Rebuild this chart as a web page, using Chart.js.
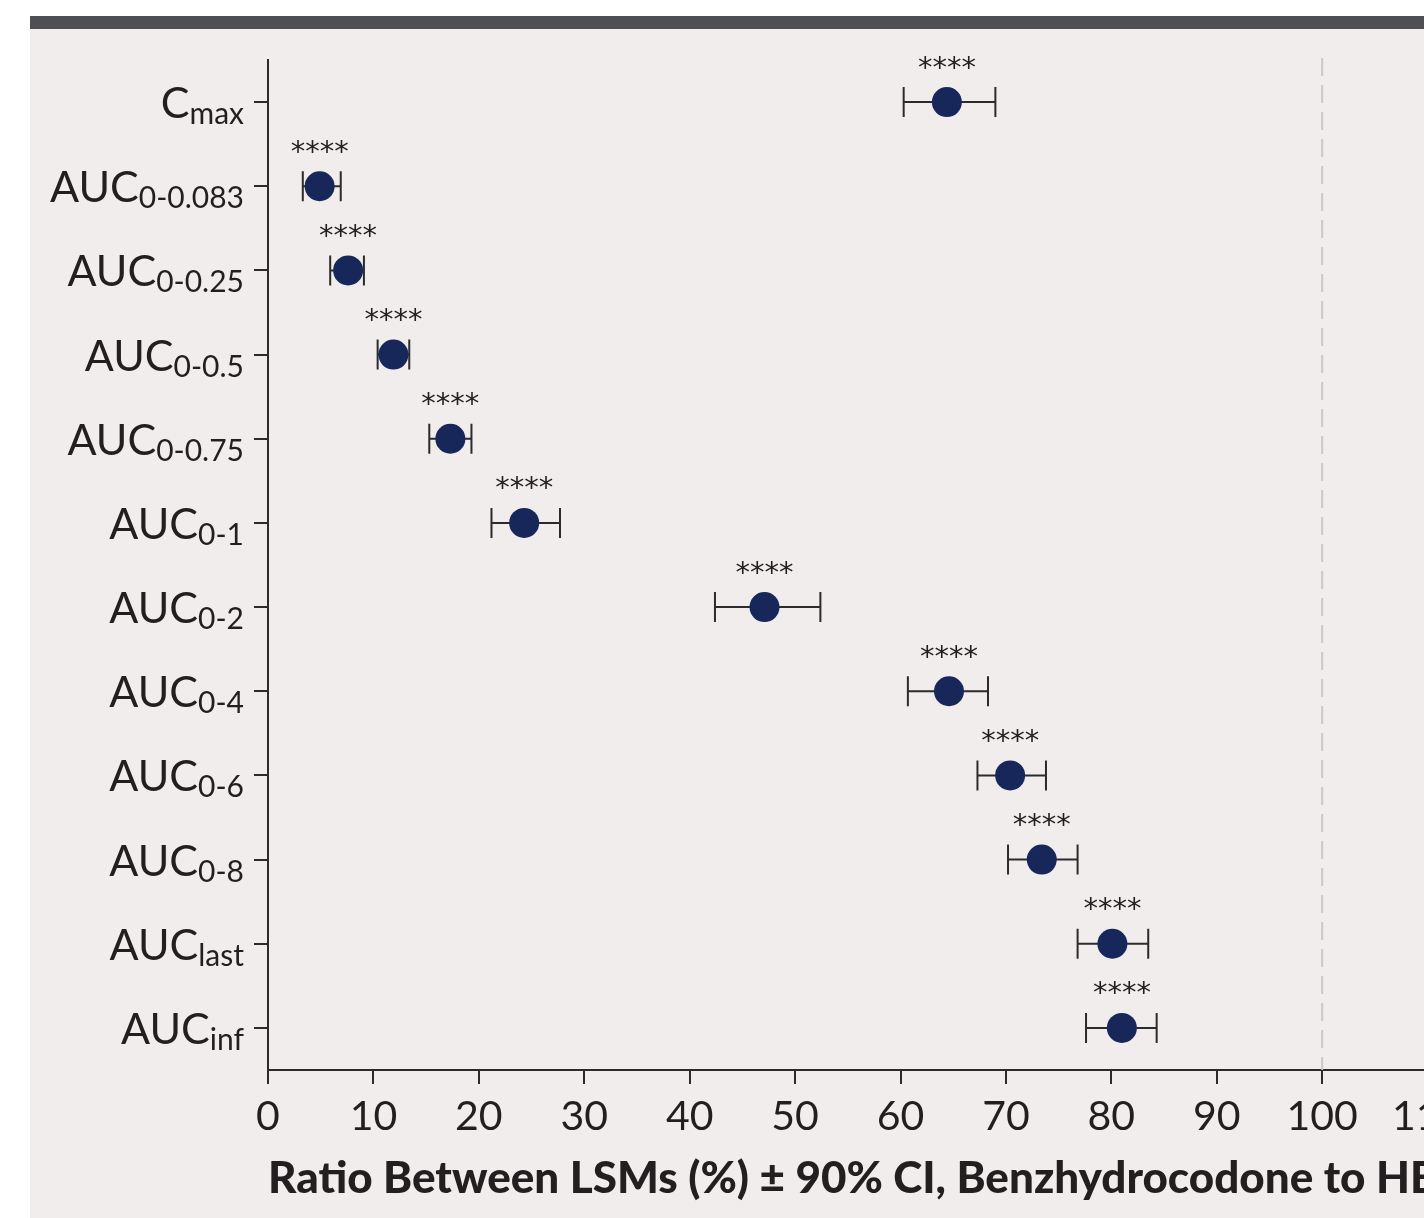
<!DOCTYPE html>
<html>
<head>
<meta charset="utf-8">
<script src="https://cdn.jsdelivr.net/npm/chart.js@4.4.0/dist/chart.umd.min.js"></script>
<style>
    html, body { margin: 0; padding: 0; background: #ffffff; overflow: hidden; width: 1424px; height: 1218px; }
    #barraTopo { position: absolute; left: 30px; top: 16px; width: 1394px; height: 13px; background: #4e4e53; }
    #painel { position: absolute; left: 30px; top: 29px; width: 1394px; height: 1189px; background: #f1eded; }
    #areaGrafico { position: absolute; left: 0; top: 0; width: 1600px; height: 1218px; }
</style>
</head>
<body>
<div id="barraTopo"></div>
<div id="painel"></div>
<div id="areaGrafico"><canvas id="graficoRazao" width="1600" height="1218"></canvas></div>
<script>
// rotulos das categorias (texto principal + subscrito)
var rotuloPrincipal = ['C', 'AUC', 'AUC', 'AUC', 'AUC', 'AUC', 'AUC', 'AUC', 'AUC', 'AUC', 'AUC', 'AUC'];
var rotuloSubscrito = ['max', '0-0.083', '0-0.25', '0-0.5', '0-0.75', '0-1', '0-2', '0-4', '0-6', '0-8', 'last', 'inf'];
var categorias = rotuloPrincipal.map(function (r, i) { return r + rotuloSubscrito[i]; });

// razao entre LSMs (%) e IC 90%
var razao   = [64.4, 4.9, 7.6, 11.9, 17.3, 24.3, 47.1, 64.6, 70.4, 73.4, 80.1, 81.0];
var icMin   = [60.3, 3.3, 5.9, 10.4, 15.3, 21.2, 42.4, 60.7, 67.3, 70.2, 76.8, 77.6];
var icMax   = [69.0, 6.9, 9.1, 13.4, 19.3, 27.7, 52.4, 68.3, 73.8, 76.8, 83.5, 84.3];
var significancia = ['****', '****', '****', '****', '****', '****', '****', '****', '****', '****', '****', '****'];

var ticksX = [0, 10, 20, 30, 40, 50, 60, 70, 80, 90, 100, 110, 120];
var linhaReferencia = 100;

var corTexto = '#231f20';
var fonteBase = 'Lato, "Noto Sans", sans-serif';

// barras de erro, linha tracejada e asteriscos
var pluginExtras = {
    id: 'extras',
    beforeDatasetsDraw: function (chart) {
        var ctx = chart.ctx;
        var x = chart.scales.x;
        var y = chart.scales.y;
        var area = chart.chartArea;

        // linha tracejada em 100
        ctx.save();
        ctx.strokeStyle = '#c9c8cc';
        ctx.lineWidth = 2;
        ctx.setLineDash([18, 9]);
        var xr = x.getPixelForValue(linhaReferencia);
        ctx.beginPath();
        ctx.moveTo(xr, area.top - 2);
        ctx.lineTo(xr, area.bottom);
        ctx.stroke();
        ctx.restore();

        ctx.save();
        ctx.strokeStyle = '#2b2b2b';
        ctx.lineWidth = 2;
        for (var i = 0; i < categorias.length; i++) {
            var py = y.getPixelForValue(i);
            var x1 = x.getPixelForValue(icMin[i]);
            var x2 = x.getPixelForValue(icMax[i]);
            ctx.beginPath();
            ctx.moveTo(x1, py);
            ctx.lineTo(x2, py);
            ctx.moveTo(x1, py - 15);
            ctx.lineTo(x1, py + 15);
            ctx.moveTo(x2, py - 15);
            ctx.lineTo(x2, py + 15);
            ctx.stroke();
        }
        ctx.restore();
    },
    afterDatasetsDraw: function (chart) {
        var ctx = chart.ctx;
        var x = chart.scales.x;
        var y = chart.scales.y;
        ctx.save();
        ctx.fillStyle = corTexto;
        ctx.textAlign = 'center';
        ctx.textBaseline = 'middle';
        ctx.font = '400 29px "DejaVu Sans", sans-serif';
        for (var i = 0; i < categorias.length; i++) {
            var px = x.getPixelForValue(razao[i]);
            var py = y.getPixelForValue(i);
            ctx.fillText(significancia[i], px, py - 33);
        }
        ctx.restore();
    },
    afterDraw: function (chart) {
        // rotulos do eixo y com subscrito
        var ctx = chart.ctx;
        var y = chart.scales.y;
        var direita = chart.chartArea.left - 24;
        ctx.save();
        ctx.fillStyle = corTexto;
        ctx.textBaseline = 'alphabetic';
        ctx.textAlign = 'left';
        for (var i = 0; i < categorias.length; i++) {
            var py = y.getPixelForValue(i);
            ctx.font = '400 30px ' + fonteBase;
            var larguraSub = ctx.measureText(rotuloSubscrito[i]).width;
            ctx.font = '400 43px ' + fonteBase;
            var larguraPrin = ctx.measureText(rotuloPrincipal[i]).width;
            var inicio = direita - larguraSub - larguraPrin;
            ctx.fillText(rotuloPrincipal[i], inicio, py + 16);
            ctx.font = '400 30px ' + fonteBase;
            ctx.fillText(rotuloSubscrito[i], inicio + larguraPrin, py + 22);
        }
        ctx.restore();
    }
};

var dadosPontos = razao.map(function (v, i) { return { x: v, y: i }; });

var grafico = new Chart(document.getElementById('graficoRazao').getContext('2d'), {
    type: 'scatter',
    data: {
        labels: categorias,
        datasets: [{
            data: dadosPontos,
            backgroundColor: '#172759',
            borderColor: '#172759',
            borderWidth: 0,
            pointRadius: 15,
            pointHoverRadius: 15
        }]
    },
    options: {
        responsive: false,
        animation: false,
        events: [],
        layout: { padding: { top: 60, left: 0, right: 67, bottom: 0 } },
        plugins: {
            legend: { display: false },
            tooltip: { enabled: false }
        },
        scales: {
            x: {
                type: 'linear',
                min: 0,
                max: 120,
                afterBuildTicks: function (s) { s.ticks = ticksX.map(function (v) { return { value: v }; }); },
                afterFit: function (s) { s.height = 148; },
                border: { display: true, color: '#2b2b2b', width: 2 },
                grid: { drawOnChartArea: false, drawTicks: true, tickLength: 14, color: '#2b2b2b', lineWidth: 2 },
                ticks: {
                    color: corTexto,
                    padding: 8,
                    maxRotation: 0,
                    autoSkip: false,
                    font: { family: fonteBase, size: 41, weight: '400' }
                },
                title: {
                    display: true,
                    text: 'Ratio Between LSMs (%) ± 90% CI, Benzhydrocodone to HB',
                    align: 'start',
                    color: corTexto,
                    padding: { top: 0, bottom: 13 },
                    font: { family: fonteBase, size: 44, weight: '900' }
                }
            },
            y: {
                type: 'category',
                labels: categorias,
                offset: true,
                afterFit: function (s) { s.width = 268; },
                border: { display: true, color: '#2b2b2b', width: 2 },
                grid: { drawOnChartArea: false, drawTicks: true, tickLength: 14, color: '#2b2b2b', lineWidth: 2, offset: false },
                ticks: { display: false }
            }
        }
    },
    plugins: [pluginExtras]
});
</script>
</body>
</html>
